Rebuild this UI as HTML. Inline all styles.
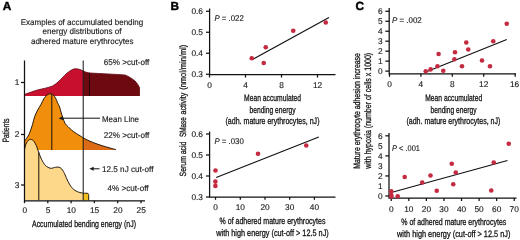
<!DOCTYPE html>
<html lang="en"><head><meta charset="utf-8"><title>Figure</title>
<style>
html,body{margin:0;padding:0;background:#fff;}
body{width:520px;height:240px;overflow:hidden;}
svg{display:block;}
text{font-family:"Liberation Sans",sans-serif;fill:#111;text-rendering:geometricPrecision;}
.r{font-size:8.3px;stroke:#1a1a1a;stroke-width:0.14px;fill:#1a1a1a;}
.c{font-size:9.3px;stroke:#1a1a1a;stroke-width:0.3px;}
.b{font-size:11.8px;font-weight:bold;fill:#000;stroke:#000;stroke-width:0.45px;}
.i{font-style:italic;}
.ax{stroke:#111;stroke-width:1.25;fill:none;}
.ln{stroke:#111;stroke-width:1;fill:none;}
.pt{fill:#c42a40;}
.rg{stroke:#111;stroke-width:1.2;fill:none;}
</style></head><body>
<svg width="520" height="240" viewBox="0 0 520 240">
<rect width="520" height="240" fill="#fff"/>

<text x="2.8" y="10.4" text-anchor="start" class="b">A</text>
<text x="82" y="24.5" text-anchor="middle" class="r" textLength="122.5" lengthAdjust="spacingAndGlyphs">Examples of accumulated bending</text>
<text x="82" y="34.3" text-anchor="middle" class="r" textLength="79" lengthAdjust="spacingAndGlyphs">energy distributions of</text>
<text x="82.2" y="44.1" text-anchor="middle" class="r" textLength="102.5" lengthAdjust="spacingAndGlyphs">adhered mature erythrocytes</text>
<path d="M24.5,96 L24.5,94.5 C30,92.5 33,91.2 37.5,90 C43,88.6 48,87.8 52.5,86 C57,83.5 59.5,80.5 62.5,77.5 C65.5,74.5 67.5,72.3 70,71 C72,69.6 73.5,68.9 75,68.8 C77,68.7 79,69.2 80,69.5 L83.2,71 L83.2,96 Z" fill="#c8102e"/>
<path d="M83.2,71 C85,72 87.5,72.8 90,73 C100,73.6 115,74.2 125,75 C129,76.5 132,78.5 135,81 C137,83 138.5,85.5 139.5,87.5 L139.5,96 L83.2,96 Z" fill="#6d0a10"/>
<path d="M24.5,94.5 C30,92.5 33,91.2 37.5,90 C43,88.6 48,87.8 52.5,86 C57,83.5 59.5,80.5 62.5,77.5 C65.5,74.5 67.5,72.3 70,71 C72,69.6 73.5,68.9 75,68.8 C77,68.7 79,69.2 80,69.5 L83.2,71 C85,72 87.5,72.8 90,73 C100,73.6 115,74.2 125,75 C129,76.5 132,78.5 135,81 C137,83 138.5,85.5 139.5,87.5 L139.5,96" fill="none" stroke="#5e0810" stroke-width="0.8"/>
<line x1="89.5" y1="73" x2="89.5" y2="96" stroke="#2a0406" stroke-width="1"/>
<path d="M24.5,141 C24.92,140.47 26.18,139.05 27,137.8 C27.82,136.55 28.48,135.70 29.4,133.5 C30.32,131.30 31.63,127.38 32.5,124.6 C33.37,121.82 33.73,119.23 34.6,116.8 C35.47,114.37 36.67,112.00 37.7,110 C38.73,108.00 39.75,106.72 40.8,104.8 C41.85,102.88 42.95,100.13 44,98.5 C45.05,96.87 46.07,95.78 47.1,95 C48.13,94.22 49.17,93.80 50.2,93.8 C51.23,93.80 52.37,94.22 53.3,95 C54.23,95.78 55.10,97.22 55.8,98.5 C56.50,99.78 56.87,101.30 57.5,102.7 C58.13,104.10 59.02,105.33 59.6,106.9 C60.18,108.47 60.48,110.37 61,112.1 C61.52,113.83 62.03,115.43 62.7,117.3 C63.37,119.17 64.07,121.68 65,123.3 C65.93,124.92 67.47,126.12 68.3,127 C69.13,127.88 69.09,127.80 70,128.6 C70.91,129.40 72.29,130.73 73.75,131.8 C75.21,132.87 77.17,134.00 78.75,135 C80.33,136.00 82.46,137.33 83.2,137.8  L83.2,150 L24.5,150 Z" fill="#f18e0c"/>
<path d="M83.2,150 L83.2,137.8 C84.33,138.38 87.20,140.05 90,141.25 C92.80,142.45 96.67,143.88 100,145 C103.33,146.12 107.37,147.23 110,148 C112.63,148.77 114.83,149.33 115.8,149.6  L116.3,150 Z" fill="#dd6a14"/>
<path d="M24.5,141 C24.92,140.47 26.18,139.05 27,137.8 C27.82,136.55 28.48,135.70 29.4,133.5 C30.32,131.30 31.63,127.38 32.5,124.6 C33.37,121.82 33.73,119.23 34.6,116.8 C35.47,114.37 36.67,112.00 37.7,110 C38.73,108.00 39.75,106.72 40.8,104.8 C41.85,102.88 42.95,100.13 44,98.5 C45.05,96.87 46.07,95.78 47.1,95 C48.13,94.22 49.17,93.80 50.2,93.8 C51.23,93.80 52.37,94.22 53.3,95 C54.23,95.78 55.10,97.22 55.8,98.5 C56.50,99.78 56.87,101.30 57.5,102.7 C58.13,104.10 59.02,105.33 59.6,106.9 C60.18,108.47 60.48,110.37 61,112.1 C61.52,113.83 62.03,115.43 62.7,117.3 C63.37,119.17 64.07,121.68 65,123.3 C65.93,124.92 67.47,126.12 68.3,127 C69.13,127.88 69.09,127.80 70,128.6 C70.91,129.40 72.29,130.73 73.75,131.8 C75.21,132.87 77.17,134.00 78.75,135 C80.33,136.00 82.46,137.33 83.2,137.8  C84.33,138.38 87.20,140.05 90,141.25 C92.80,142.45 96.67,143.88 100,145 C103.33,146.12 107.37,147.23 110,148 C112.63,148.77 114.83,149.33 115.8,149.6 " fill="none" stroke="#1a1208" stroke-width="0.95"/>
<line x1="51.8" y1="94.3" x2="51.8" y2="150" stroke="#1a1208" stroke-width="1"/>
<path d="M24.5,150 C24.63,149.33 24.97,147.17 25.3,146 C25.63,144.83 25.97,143.95 26.5,143 C27.03,142.05 27.83,140.90 28.5,140.3 C29.17,139.70 29.83,139.45 30.5,139.4 C31.17,139.35 31.92,139.65 32.5,140 C33.08,140.35 33.38,140.58 34,141.5 C34.62,142.42 35.46,143.67 36.25,145.5 C37.04,147.33 38.04,150.58 38.75,152.5 C39.46,154.42 39.88,155.54 40.5,157 C41.12,158.46 41.83,160.03 42.5,161.25 C43.17,162.47 43.88,163.47 44.5,164.3 C45.12,165.13 45.33,165.60 46.25,166.25 C47.17,166.90 48.88,167.91 50,168.2 C51.12,168.49 52.08,168.17 53,168 C53.92,167.83 54.54,167.33 55.5,167.2 C56.46,167.07 57.83,167.02 58.75,167.2 C59.67,167.38 60.38,167.83 61,168.3 C61.62,168.77 61.92,169.13 62.5,170 C63.08,170.87 63.88,172.25 64.5,173.5 C65.12,174.75 65.67,176.17 66.25,177.5 C66.83,178.83 67.38,180.25 68,181.5 C68.62,182.75 69.33,183.95 70,185 C70.67,186.05 71.38,187.05 72,187.8 C72.62,188.55 73.08,188.97 73.75,189.5 C74.42,190.03 75.17,190.55 76,191 C76.83,191.45 77.55,191.83 78.75,192.2 C79.95,192.57 82.46,193.03 83.2,193.2  L83.2,200.3 L24.5,200.3 Z" fill="#fdd88a"/>
<path d="M83.2,200.3 L83.2,193.2 C85,193.2 87,193.2 88,193.4 C88.6,194 88.7,194.7 88.7,195.7 L88.7,200.3 Z" fill="#f1be1c"/>
<path d="M24.5,150 C24.63,149.33 24.97,147.17 25.3,146 C25.63,144.83 25.97,143.95 26.5,143 C27.03,142.05 27.83,140.90 28.5,140.3 C29.17,139.70 29.83,139.45 30.5,139.4 C31.17,139.35 31.92,139.65 32.5,140 C33.08,140.35 33.38,140.58 34,141.5 C34.62,142.42 35.46,143.67 36.25,145.5 C37.04,147.33 38.04,150.58 38.75,152.5 C39.46,154.42 39.88,155.54 40.5,157 C41.12,158.46 41.83,160.03 42.5,161.25 C43.17,162.47 43.88,163.47 44.5,164.3 C45.12,165.13 45.33,165.60 46.25,166.25 C47.17,166.90 48.88,167.91 50,168.2 C51.12,168.49 52.08,168.17 53,168 C53.92,167.83 54.54,167.33 55.5,167.2 C56.46,167.07 57.83,167.02 58.75,167.2 C59.67,167.38 60.38,167.83 61,168.3 C61.62,168.77 61.92,169.13 62.5,170 C63.08,170.87 63.88,172.25 64.5,173.5 C65.12,174.75 65.67,176.17 66.25,177.5 C66.83,178.83 67.38,180.25 68,181.5 C68.62,182.75 69.33,183.95 70,185 C70.67,186.05 71.38,187.05 72,187.8 C72.62,188.55 73.08,188.97 73.75,189.5 C74.42,190.03 75.17,190.55 76,191 C76.83,191.45 77.55,191.83 78.75,192.2 C79.95,192.57 82.46,193.03 83.2,193.2  C85,193.2 87,193.2 88,193.4 C88.6,194 88.7,194.7 88.7,195.7 L88.7,200.3" fill="none" stroke="#1a1208" stroke-width="0.95"/>
<line x1="38.8" y1="152.3" x2="38.8" y2="200.3" stroke="#1a1208" stroke-width="1"/>
<path class="ax" d="M24.5,60.5 V200.8 H145"/>
<line class="ln" x1="83.2" y1="60.5" x2="83.2" y2="200.5"/>
<line class="ax" x1="21" y1="82.5" x2="24.5" y2="82.5"/>
<line class="ax" x1="21" y1="134.5" x2="24.5" y2="134.5"/>
<line class="ax" x1="21" y1="185" x2="24.5" y2="185"/>
<text x="19.3" y="85.2" text-anchor="end" class="r">1</text>
<text x="19.3" y="137.2" text-anchor="end" class="r">2</text>
<text x="19.3" y="187.7" text-anchor="end" class="r">3</text>
<line class="ax" x1="24.50" y1="200.8" x2="24.50" y2="203.2"/>
<text x="24.70" y="212.7" text-anchor="middle" class="r">0</text>
<line class="ax" x1="47.80" y1="200.8" x2="47.80" y2="203.2"/>
<text x="48.00" y="212.7" text-anchor="middle" class="r">5</text>
<line class="ax" x1="71.10" y1="200.8" x2="71.10" y2="203.2"/>
<text x="71.30" y="212.7" text-anchor="middle" class="r">10</text>
<line class="ax" x1="94.40" y1="200.8" x2="94.40" y2="203.2"/>
<text x="94.60" y="212.7" text-anchor="middle" class="r">15</text>
<line class="ax" x1="117.70" y1="200.8" x2="117.70" y2="203.2"/>
<text x="117.90" y="212.7" text-anchor="middle" class="r">20</text>
<line class="ax" x1="141.00" y1="200.8" x2="141.00" y2="203.2"/>
<text x="141.20" y="212.7" text-anchor="middle" class="r">25</text>
<text transform="translate(8.8 142.3) rotate(-90)" x="0" y="0" class="c" textLength="23.8" lengthAdjust="spacingAndGlyphs">Patients</text>
<text x="84" y="226.6" text-anchor="middle" class="c" textLength="104" lengthAdjust="spacingAndGlyphs">Accumulated bending energy (nJ)</text>
<text x="103.8" y="64.8" text-anchor="start" class="r" textLength="45.5" lengthAdjust="spacingAndGlyphs">65% &gt;cut-off</text>
<text x="102" y="121.9" text-anchor="start" class="r" textLength="37" lengthAdjust="spacingAndGlyphs">Mean Line</text>
<line class="ln" x1="61" y1="118.2" x2="100" y2="118.2"/><path d="M58.6,118.2 L63,116.2 L63,120.2 Z" fill="#1a1a1a"/>
<text x="103.8" y="137.8" text-anchor="start" class="r" textLength="45.5" lengthAdjust="spacingAndGlyphs">22% &gt;cut-off</text>
<text x="102" y="171.5" text-anchor="start" class="r" textLength="51.5" lengthAdjust="spacingAndGlyphs">12.5 nJ cut-off</text>
<line class="ln" x1="92" y1="168.8" x2="99.5" y2="168.8"/><path d="M89.3,168.8 L93.7,166.8 L93.7,170.8 Z" fill="#1a1a1a"/>
<text x="107.5" y="190.6" text-anchor="start" class="r" textLength="41" lengthAdjust="spacingAndGlyphs">4% &gt;cut-off</text>
<text x="170.6" y="10.4" text-anchor="start" class="b">B</text>
<text transform="translate(185.6 176.4) rotate(-90)" x="0" y="0" class="c" style="font-size:9.1px" textLength="34.8" lengthAdjust="spacingAndGlyphs">Serum acid</text><text transform="translate(185.6 137.1) rotate(-90)" x="0" y="0" class="c" style="font-size:9.1px" textLength="20" lengthAdjust="spacingAndGlyphs">SMase</text><text transform="translate(185.6 114.4) rotate(-90)" x="0" y="0" class="c" style="font-size:9.1px" textLength="21.6" lengthAdjust="spacingAndGlyphs">activity</text><text transform="translate(185.6 89.8) rotate(-90)" x="0" y="0" class="c" style="font-size:9.1px" textLength="45" lengthAdjust="spacingAndGlyphs">(nmol/min/ml)</text>
<path class="ax" d="M209.6,8.5 V74.5 H335.5"/>
<line class="ax" x1="206" y1="11.25" x2="209.6" y2="11.25"/>
<text x="203" y="14.05" text-anchor="end" class="r">0.6</text>
<line class="ax" x1="206" y1="32.25" x2="209.6" y2="32.25"/>
<text x="203" y="35.05" text-anchor="end" class="r">0.5</text>
<line class="ax" x1="206" y1="53.25" x2="209.6" y2="53.25"/>
<text x="203" y="56.05" text-anchor="end" class="r">0.4</text>
<line class="ax" x1="206" y1="74.25" x2="209.6" y2="74.25"/>
<text x="203" y="77.05" text-anchor="end" class="r">0.3</text>
<line class="ax" x1="209.5" y1="74.5" x2="209.5" y2="77.5"/>
<text x="209.5" y="88" text-anchor="middle" class="r">0</text>
<line class="ax" x1="245.5" y1="74.5" x2="245.5" y2="77.5"/>
<text x="245.5" y="88" text-anchor="middle" class="r">4</text>
<line class="ax" x1="281.5" y1="74.5" x2="281.5" y2="77.5"/>
<text x="281.5" y="88" text-anchor="middle" class="r">8</text>
<line class="ax" x1="317.5" y1="74.5" x2="317.5" y2="77.5"/>
<text x="317.5" y="88" text-anchor="middle" class="r">12</text>
<text x="214.5" y="20.7" class="r" textLength="29.3" lengthAdjust="spacingAndGlyphs"><tspan class="i">P</tspan> = .022</text>
<line class="rg" x1="252" y1="59.7" x2="329" y2="17.5"/>
<g class="pt"><circle cx="251.75" cy="58.2" r="2.3"/><circle cx="263.75" cy="63" r="2.3"/><circle cx="265.75" cy="47.3" r="2.3"/><circle cx="293.25" cy="30.75" r="2.3"/><circle cx="325.75" cy="22.5" r="2.3"/></g>
<text x="272.6" y="101.4" text-anchor="middle" class="c" textLength="57" lengthAdjust="spacingAndGlyphs">Mean accumulated</text>
<text x="272.5" y="113.4" text-anchor="middle" class="c" textLength="46" lengthAdjust="spacingAndGlyphs">bending energy</text>
<text x="272.5" y="124.3" text-anchor="middle" class="c" textLength="94" lengthAdjust="spacingAndGlyphs">(adh. mature erythrocytes, nJ)</text>
<path class="ax" d="M209.6,131.5 V197 H335.5"/>
<line class="ax" x1="206" y1="134" x2="209.6" y2="134"/>
<text x="203" y="136.8" text-anchor="end" class="r">0.6</text>
<line class="ax" x1="206" y1="155" x2="209.6" y2="155"/>
<text x="203" y="157.8" text-anchor="end" class="r">0.5</text>
<line class="ax" x1="206" y1="176" x2="209.6" y2="176"/>
<text x="203" y="178.8" text-anchor="end" class="r">0.4</text>
<line class="ax" x1="206" y1="197" x2="209.6" y2="197"/>
<text x="203" y="199.8" text-anchor="end" class="r">0.3</text>
<line class="ax" x1="215.5" y1="197" x2="215.5" y2="199.8"/>
<text x="215.5" y="210.1" text-anchor="middle" class="r">0</text>
<line class="ax" x1="240.3" y1="197" x2="240.3" y2="199.8"/>
<text x="240.3" y="210.1" text-anchor="middle" class="r">10</text>
<line class="ax" x1="265" y1="197" x2="265" y2="199.8"/>
<text x="265" y="210.1" text-anchor="middle" class="r">20</text>
<line class="ax" x1="289.7" y1="197" x2="289.7" y2="199.8"/>
<text x="289.7" y="210.1" text-anchor="middle" class="r">30</text>
<line class="ax" x1="314.4" y1="197" x2="314.4" y2="199.8"/>
<text x="314.4" y="210.1" text-anchor="middle" class="r">40</text>
<text x="214.5" y="143.6" class="r" textLength="29.3" lengthAdjust="spacingAndGlyphs"><tspan class="i">P</tspan> = .030</text>
<line class="rg" x1="216.2" y1="177.5" x2="318.8" y2="137"/>
<g class="pt"><circle cx="215.5" cy="170.5" r="2.3"/><circle cx="215.4" cy="181.6" r="2.3"/><circle cx="215.4" cy="185.9" r="2.3"/><circle cx="258" cy="153.75" r="2.3"/><circle cx="306.25" cy="145.5" r="2.3"/></g>
<text x="272.5" y="224" text-anchor="middle" class="c" textLength="106" lengthAdjust="spacingAndGlyphs">% of adhered mature erythrocytes</text>
<text x="272.5" y="236.2" text-anchor="middle" class="c" textLength="112.5" lengthAdjust="spacingAndGlyphs">with high energy (cut-off &gt; 12.5 nJ)</text>
<text x="355.6" y="10.4" text-anchor="start" class="b">C</text>
<text transform="translate(359.5 168.8) rotate(-90)" x="0" y="0" class="c" textLength="115.7" lengthAdjust="spacingAndGlyphs">Mature erythrocyte adhesion increase</text>
<text transform="translate(370.5 168.8) rotate(-90)" x="0" y="0" class="c" textLength="116" lengthAdjust="spacingAndGlyphs">with hypoxia (number of cells x 1000)</text>
<path class="ax" d="M389.2,8 V73.8 H516"/>
<line class="ax" x1="385.3" y1="71.10" x2="389.2" y2="71.10"/>
<text x="382.7" y="74.00" text-anchor="end" class="r">0</text>
<line class="ax" x1="385.3" y1="61.13" x2="389.2" y2="61.13"/>
<text x="382.7" y="64.03" text-anchor="end" class="r">1</text>
<line class="ax" x1="385.3" y1="51.16" x2="389.2" y2="51.16"/>
<text x="382.7" y="54.06" text-anchor="end" class="r">2</text>
<line class="ax" x1="385.3" y1="41.19" x2="389.2" y2="41.19"/>
<text x="382.7" y="44.09" text-anchor="end" class="r">3</text>
<line class="ax" x1="385.3" y1="31.22" x2="389.2" y2="31.22"/>
<text x="382.7" y="34.12" text-anchor="end" class="r">4</text>
<line class="ax" x1="385.3" y1="21.25" x2="389.2" y2="21.25"/>
<text x="382.7" y="24.15" text-anchor="end" class="r">5</text>
<line class="ax" x1="385.3" y1="11.28" x2="389.2" y2="11.28"/>
<text x="382.7" y="14.18" text-anchor="end" class="r">6</text>
<line class="ax" x1="389.5" y1="73.8" x2="389.5" y2="76.8"/>
<text x="389.5" y="87" text-anchor="middle" class="r">0</text>
<line class="ax" x1="420.9" y1="73.8" x2="420.9" y2="76.8"/>
<text x="420.9" y="87" text-anchor="middle" class="r">4</text>
<line class="ax" x1="452.3" y1="73.8" x2="452.3" y2="76.8"/>
<text x="452.3" y="87" text-anchor="middle" class="r">8</text>
<line class="ax" x1="483.7" y1="73.8" x2="483.7" y2="76.8"/>
<text x="483.7" y="87" text-anchor="middle" class="r">12</text>
<line class="ax" x1="515.2" y1="73.8" x2="515.2" y2="76.8"/>
<text x="514.6" y="87" text-anchor="middle" class="r">16</text>
<text x="392" y="22.6" class="r" textLength="29.8" lengthAdjust="spacingAndGlyphs"><tspan class="i">P</tspan> = .002</text>
<line class="rg" x1="425.8" y1="72" x2="506.8" y2="39.5"/>
<g class="pt"><circle cx="506.75" cy="23.75" r="2.3"/><circle cx="493.25" cy="41.25" r="2.3"/><circle cx="466.25" cy="42.5" r="2.3"/><circle cx="468.25" cy="49.5" r="2.3"/><circle cx="455" cy="52.2" r="2.3"/><circle cx="438.6" cy="54" r="2.3"/><circle cx="454.4" cy="59.3" r="2.3"/><circle cx="482" cy="60.5" r="2.3"/><circle cx="490" cy="66.25" r="2.3"/><circle cx="462" cy="66.25" r="2.3"/><circle cx="437.5" cy="66.25" r="2.3"/><circle cx="443.25" cy="70.75" r="2.3"/><circle cx="430.6" cy="69.4" r="2.3"/><circle cx="425.75" cy="71.25" r="2.3"/></g>
<text x="453.7" y="101.4" text-anchor="middle" class="c" textLength="57" lengthAdjust="spacingAndGlyphs">Mean accumulated</text>
<text x="453.5" y="113.4" text-anchor="middle" class="c" textLength="46" lengthAdjust="spacingAndGlyphs">bending energy</text>
<text x="453.4" y="124.3" text-anchor="middle" class="c" textLength="94" lengthAdjust="spacingAndGlyphs">(adh. mature erythrocytes, nJ)</text>
<path class="ax" d="M389,133 V198 H516.5"/>
<line class="ax" x1="385.3" y1="196.00" x2="389" y2="196.00"/>
<text x="382.7" y="198.90" text-anchor="end" class="r">0</text>
<text x="382.7" y="188.87" text-anchor="end" class="r">1</text>
<line class="ax" x1="385.3" y1="175.94" x2="389" y2="175.94"/>
<text x="382.7" y="178.84" text-anchor="end" class="r">2</text>
<text x="382.7" y="168.81" text-anchor="end" class="r">3</text>
<line class="ax" x1="385.3" y1="155.88" x2="389" y2="155.88"/>
<text x="382.7" y="158.78" text-anchor="end" class="r">4</text>
<text x="382.7" y="148.75" text-anchor="end" class="r">5</text>
<line class="ax" x1="385.3" y1="135.82" x2="389" y2="135.82"/>
<text x="382.7" y="138.72" text-anchor="end" class="r">6</text>
<line class="ax" x1="391.25" y1="198" x2="391.25" y2="201"/>
<text x="391.25" y="212.3" text-anchor="middle" class="r">0</text>
<line class="ax" x1="408.82" y1="198" x2="408.82" y2="201"/>
<text x="408.82" y="212.3" text-anchor="middle" class="r">10</text>
<line class="ax" x1="426.39" y1="198" x2="426.39" y2="201"/>
<text x="426.39" y="212.3" text-anchor="middle" class="r">20</text>
<line class="ax" x1="443.96" y1="198" x2="443.96" y2="201"/>
<text x="443.96" y="212.3" text-anchor="middle" class="r">30</text>
<line class="ax" x1="461.53" y1="198" x2="461.53" y2="201"/>
<text x="461.53" y="212.3" text-anchor="middle" class="r">40</text>
<line class="ax" x1="479.10" y1="198" x2="479.10" y2="201"/>
<text x="479.10" y="212.3" text-anchor="middle" class="r">50</text>
<line class="ax" x1="496.67" y1="198" x2="496.67" y2="201"/>
<text x="496.67" y="212.3" text-anchor="middle" class="r">60</text>
<line class="ax" x1="514.24" y1="198" x2="514.24" y2="201"/>
<text x="514.24" y="212.3" text-anchor="middle" class="r">70</text>
<text x="392" y="151" class="r" textLength="28" lengthAdjust="spacingAndGlyphs"><tspan class="i">P</tspan> &lt; .001</text>
<line class="rg" x1="391.25" y1="192.5" x2="507.5" y2="160.5"/>
<g class="pt"><circle cx="508.75" cy="143.75" r="2.3"/><circle cx="493.75" cy="162.5" r="2.3"/><circle cx="451.75" cy="163.75" r="2.3"/><circle cx="455.75" cy="172.5" r="2.3"/><circle cx="430.5" cy="175.5" r="2.3"/><circle cx="404.7" cy="177" r="2.3"/><circle cx="422.2" cy="182.5" r="2.3"/><circle cx="453.25" cy="184.25" r="2.3"/><circle cx="436.75" cy="190.75" r="2.3"/><circle cx="491.25" cy="190.5" r="2.3"/><circle cx="397.7" cy="196.25" r="2.3"/><circle cx="391.25" cy="191.25" r="2.3"/><circle cx="391.25" cy="195" r="2.3"/><circle cx="391.4" cy="196.6" r="2.3"/></g>
<text x="453.75" y="225" text-anchor="middle" class="c" textLength="105" lengthAdjust="spacingAndGlyphs">% of adhered mature erythrocytes</text>
<text x="453.75" y="237" text-anchor="middle" class="c" textLength="113.5" lengthAdjust="spacingAndGlyphs">with high energy (cut-off &gt; 12.5 nJ)</text>
</svg>
</body></html>
